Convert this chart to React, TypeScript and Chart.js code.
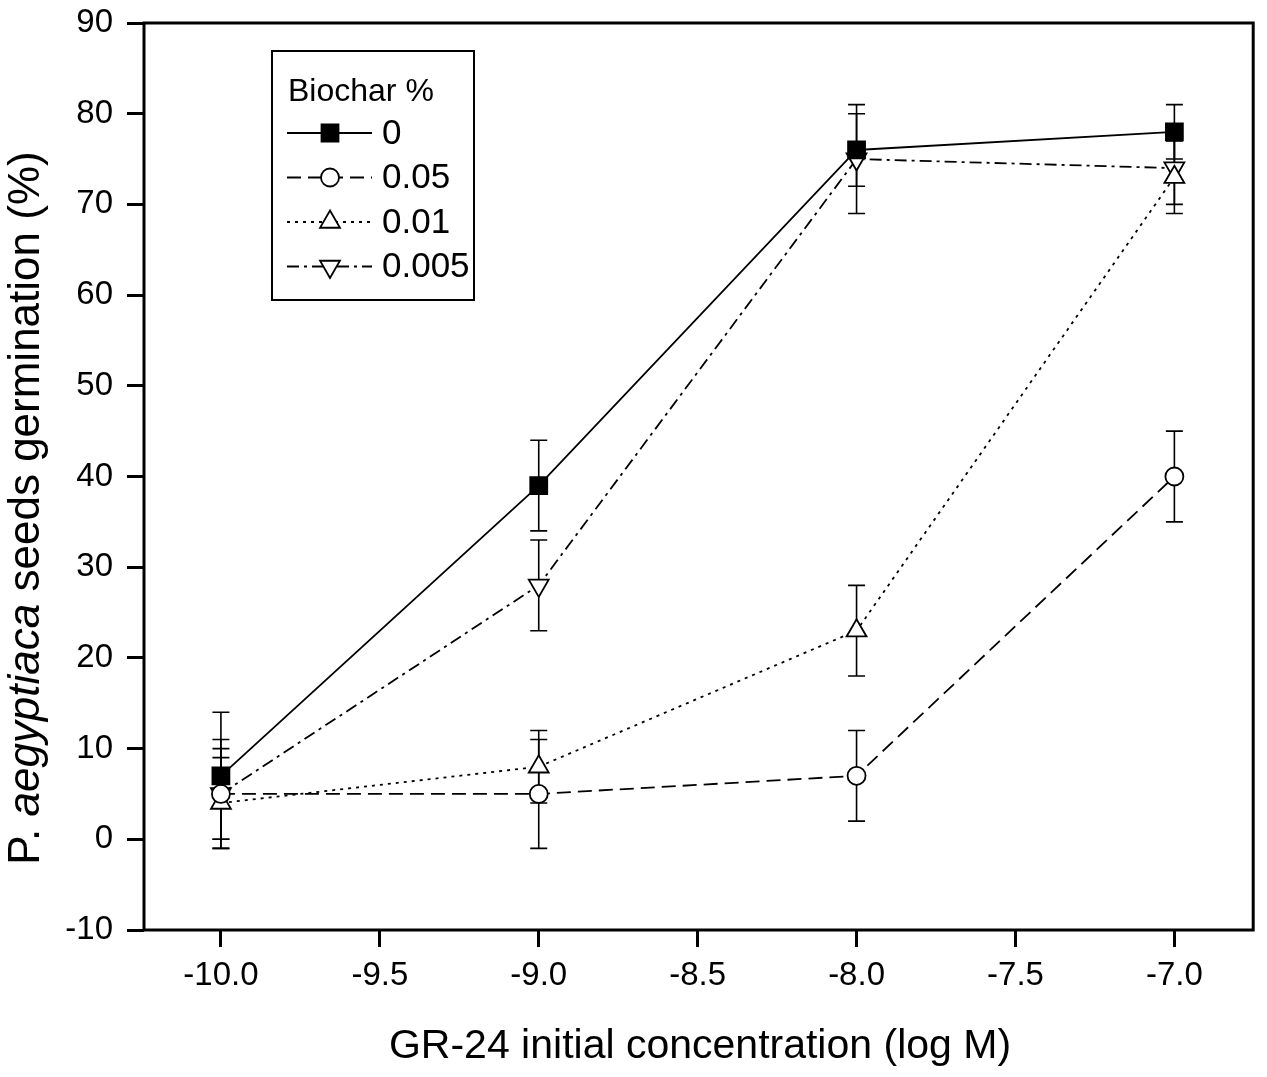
import { useEffect, useRef } from 'react';
import { Chart, registerables } from 'chart.js';
import { drawPoint } from 'chart.js/helpers';

Chart.register(...registerables);

// GR-24 concentration (log M)
const concentrations = [-10, -9, -8, -7];
const biocharLevels = ['0', '0.05', '0.01', '0.005'];

// germination (%) and error bars per biochar level
const germination0 = [7, 39, 76, 78];
const error0 = [7, 5, 4, 3];
const germination005 = [5, 5, 7, 40];
const error005 = [6, 6, 5, 5];
const germination001 = [4, 8, 23, 73];
const error001 = [5, 4, 5, 4];
const germination0005 = [5, 28, 75, 74];
const error0005 = [5, 5, 6, 4];

const xTicks = [-10, -9.5, -9, -8.5, -8, -7.5, -7];
const yTicks = [-10, 0, 10, 20, 30, 40, 50, 60, 70, 80, 90];

const FONT = "'Liberation Sans', Arial, sans-serif";

const seriesStyles = [
  { dash: [], pointStyle: 'rect', radius: 12, rotation: 0, fill: '#000' },
  { dash: [14, 7], pointStyle: 'circle', radius: 9, rotation: 0, fill: '#fff' },
  { dash: [3, 5], pointStyle: 'triangle', radius: 11.5, rotation: 0, fill: '#fff' },
  { dash: [12, 5, 3, 5], pointStyle: 'triangle', radius: 11.5, rotation: 180, fill: '#fff' },
];

const errorBars = {
  id: 'errorBars',
  beforeDatasetsDraw(chart: any) {
    const { ctx, scales } = chart;
    ctx.save();
    ctx.strokeStyle = '#000';
    ctx.lineWidth = 1.6;
    ctx.setLineDash([]);
    chart.data.datasets.forEach((ds: any) => {
      ds.data.forEach((p: any, i: number) => {
        const e = ds.errors[i];
        const px = scales.x.getPixelForValue(p.x);
        const top = scales.y.getPixelForValue(p.y + e);
        const bot = scales.y.getPixelForValue(p.y - e);
        ctx.beginPath();
        ctx.moveTo(px, top);
        ctx.lineTo(px, bot);
        ctx.moveTo(px - 8.5, top);
        ctx.lineTo(px + 8.5, top);
        ctx.moveTo(px - 8.5, bot);
        ctx.lineTo(px + 8.5, bot);
        ctx.stroke();
      });
    });
    ctx.restore();
  },
};

const frameAndLabels = {
  id: 'frameAndLabels',
  afterDraw(chart: any) {
    const { ctx, chartArea: a } = chart;
    ctx.save();
    // frame
    ctx.strokeStyle = '#000';
    ctx.lineWidth = 3;
    ctx.setLineDash([]);
    ctx.strokeRect(a.left, a.top, a.right - a.left, a.bottom - a.top);

    // x title
    ctx.fillStyle = '#000';
    ctx.font = `41px ${FONT}`;
    ctx.textAlign = 'center';
    ctx.textBaseline = 'alphabetic';
    ctx.fillText('GR-24 initial concentration (log M)', 700, 1058);

    // y title with italic species name
    const parts = [
      { text: 'P. ', font: `44px ${FONT}` },
      { text: 'aegyptiaca', font: `italic 44px ${FONT}` },
      { text: ' seeds germination (%)', font: `44px ${FONT}` },
    ];
    let total = 0;
    parts.forEach(p => {
      ctx.font = p.font;
      total += ctx.measureText(p.text).width;
    });
    ctx.translate(39, 508);
    ctx.rotate(-Math.PI / 2);
    ctx.textAlign = 'left';
    let cx = -total / 2;
    parts.forEach(p => {
      ctx.font = p.font;
      ctx.fillText(p.text, cx, 0);
      cx += ctx.measureText(p.text).width;
    });
    ctx.restore();

    // legend box
    ctx.save();
    const bx = a.left + 128;
    const by = a.top + 28;
    ctx.fillStyle = '#fff';
    ctx.fillRect(bx, by, 202, 249);
    ctx.strokeStyle = '#000';
    ctx.lineWidth = 2;
    ctx.strokeRect(bx, by, 202, 249);
    ctx.fillStyle = '#000';
    ctx.font = `32px ${FONT}`;
    ctx.textAlign = 'left';
    ctx.textBaseline = 'alphabetic';
    ctx.fillText('Biochar %', bx + 16, by + 50);
    biocharLevels.forEach((label, i) => {
      const st = seriesStyles[i];
      const ly = by + 82 + i * 44.5;
      ctx.strokeStyle = '#000';
      ctx.lineWidth = 1.8;
      ctx.setLineDash(st.dash);
      ctx.beginPath();
      ctx.moveTo(bx + 15, ly);
      ctx.lineTo(bx + 100, ly);
      ctx.stroke();
      ctx.setLineDash([]);
      ctx.fillStyle = st.fill;
      ctx.lineWidth = 1.8;
      drawPoint(ctx, { pointStyle: st.pointStyle, radius: st.radius, rotation: st.rotation, borderWidth: 1.8 } as any, bx + 58, ly);
      ctx.fillStyle = '#000';
      ctx.font = `35px ${FONT}`;
      ctx.textBaseline = 'middle';
      ctx.fillText(label, bx + 110, ly + 1);
    });
    ctx.restore();
  },
};

export default function App() {
  const canvasRef = useRef<HTMLCanvasElement>(null);
  const chartRef = useRef<Chart | null>(null);

  useEffect(() => {
    document.body.style.margin = '0';
    document.body.style.overflow = 'hidden';
    if (!canvasRef.current) return;
    if (chartRef.current) chartRef.current.destroy();

    const allValues = [germination0, germination005, germination001, germination0005];
    const allErrors = [error0, error005, error001, error0005];

    const datasets: any[] = allValues.map((vals, i) => {
      const st = seriesStyles[i];
      return {
        label: biocharLevels[i],
        data: concentrations.map((c, j) => ({ x: c, y: vals[j] })),
        errors: allErrors[i],
        borderColor: '#000',
        borderWidth: 1.8,
        borderDash: st.dash,
        pointStyle: st.pointStyle,
        pointRadius: st.radius,
        pointRotation: st.rotation,
        pointBackgroundColor: st.fill,
        pointBorderColor: '#000',
        pointBorderWidth: 1.8,
        tension: 0,
        fill: false,
      };
    });

    const tickFont = { family: FONT, size: 33 };
    const grid = {
      drawOnChartArea: false,
      drawTicks: true,
      tickLength: 17,
      lineWidth: 3,
      tickWidth: 3,
      color: '#000',
      tickColor: '#000',
    };

    chartRef.current = new Chart(canvasRef.current, {
      type: 'line',
      data: { datasets },
      options: {
        animation: false,
        responsive: true,
        maintainAspectRatio: false,
        layout: { padding: { top: 23, right: 2, left: 0, bottom: 0 } },
        plugins: {
          legend: { display: false },
          tooltip: { enabled: false },
        },
        scales: {
          x: {
            type: 'linear',
            min: -10.242,
            max: -6.752,
            afterBuildTicks: (s: any) => {
              s.ticks = xTicks.map(v => ({ value: v }));
            },
            afterFit: (s: any) => {
              s.height = 147;
              s.paddingLeft = 0;
              s.paddingRight = 0;
            },
            ticks: {
              font: tickFont,
              color: '#000',
              padding: 9,
              callback: (v: any) => Number(v).toFixed(1),
            },
            grid,
            border: { display: false },
          },
          y: {
            type: 'linear',
            min: -10,
            max: 90,
            afterBuildTicks: (s: any) => {
              s.ticks = yTicks.map(v => ({ value: v }));
            },
            afterFit: (s: any) => {
              s.width = 144;
              s.paddingTop = 0;
              s.paddingBottom = 0;
            },
            ticks: {
              font: tickFont,
              color: '#000',
              padding: 14,
            },
            grid,
            border: { display: false },
          },
        },
      } as any,
      plugins: [errorBars, frameAndLabels],
    });

    return () => {
      if (chartRef.current) {
        chartRef.current.destroy();
        chartRef.current = null;
      }
    };
  }, []);

  return (
    <div style={{ width: 1267, height: 1077, position: 'relative', background: '#fff' }}>
      <canvas ref={canvasRef} />
    </div>
  );
}
